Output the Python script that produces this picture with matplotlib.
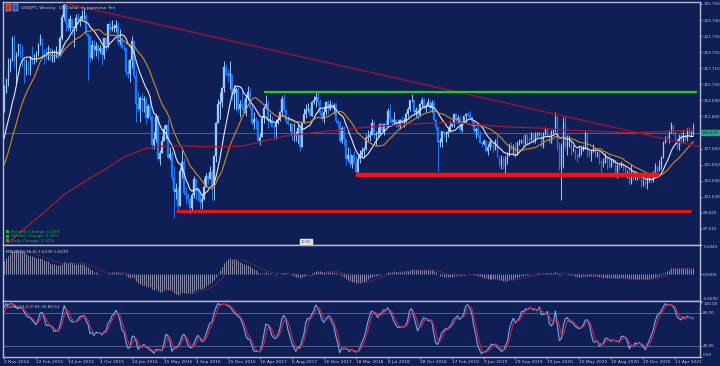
import numpy as np
import pandas as pd
import matplotlib
matplotlib.use('Agg')
import matplotlib.pyplot as plt

# weekly USDJPY bars, first bar = week of 2 Nov 2014
start_date = '2014-11-02'

# 26 weeks before the first visible bar (only feeds the indicators)
cpre = [101.8, 101.5, 101.9, 101.8, 102.5, 102.0, 102.0, 101.3, 102.0, 101.3, 101.3, 101.8, 102.6,
        102.0, 102.4, 103.8, 104.1, 105.0, 107.4, 108.8, 109.3, 109.7, 107.7, 106.9, 108.1, 112.3]
hpre = [102.2, 102.7, 102.0, 102.0, 102.8, 102.8, 102.3, 102.1, 102.3, 102.0, 101.8, 101.9, 103.15,
        102.8, 102.6, 104.1, 104.4, 105.7, 107.4, 109.45, 109.5, 110.1, 109.0, 107.7, 108.4, 112.5]
lpre = [101.4, 101.1, 100.8, 101.4, 101.7, 101.7, 101.6, 101.2, 101.2, 101.1, 101.0, 101.2, 101.8,
        101.5, 101.9, 102.3, 103.7, 104.2, 104.9, 106.8, 108.4, 108.8, 107.4, 105.2, 106.8, 107.5]

c2014 = [114.6, 116.3, 117.8, 118.6, 121.5, 118.8, 119.5, 120.7, 120.5]
h2014 = [115.6, 116.5, 118.98, 118.98, 121.7, 121.85, 119.8, 120.8, 120.8]
l2014 = [112.3, 114.9, 115.5, 117.2, 118.6, 117.9, 115.6, 119.2, 119.0]

c2015 = [118.5, 117.5, 117.7, 117.5, 119.1, 118.7, 119.0, 119.6, 120.8, 121.4,
         120.0, 119.1, 118.9, 120.2, 118.9, 118.9, 119.4, 119.8, 119.3, 121.5,
         124.1, 125.6, 123.4, 122.7, 123.9, 122.8, 122.8, 124.0, 123.8, 123.9,
         124.2, 124.3, 122.0, 121.7, 119.0, 120.6, 120.0, 120.5, 119.9, 120.2,
         119.4, 121.5, 120.6, 123.2, 122.6, 122.8, 122.8, 123.1, 121.0, 121.2, 120.3, 120.2]
h2015 = [120.5, 119.0, 118.9, 118.6, 119.2, 120.5, 119.5, 119.9, 120.9, 122.0,
         121.5, 120.1, 120.4, 120.6, 120.3, 120.1, 120.0, 120.5, 120.0, 121.8,
         124.5, 125.86, 125.7, 124.0, 124.4, 123.7, 123.0, 124.5, 124.6, 124.3,
         125.0, 125.3, 124.6, 121.8, 121.8, 121.3, 121.2, 121.0, 120.7, 120.6,
         120.3, 121.5, 121.5, 123.3, 123.6, 123.7, 123.2, 123.7, 123.5, 122.6, 121.7, 120.7]
l2015 = [117.9, 115.85, 116.9, 116.9, 116.9, 118.3, 118.2, 118.5, 119.2, 120.6,
         119.3, 118.3, 118.7, 118.7, 118.6, 118.5, 118.5, 119.0, 118.9, 119.2,
         121.3, 123.7, 122.4, 122.4, 122.4, 121.9, 120.4, 122.4, 123.3, 123.0,
         123.6, 123.9, 121.7, 116.2, 118.5, 118.9, 119.3, 119.3, 118.7, 119.6,
         118.1, 118.9, 119.9, 120.3, 122.2, 122.4, 122.2, 122.2, 120.6, 120.6, 120.1, 119.9]

c2016 = [117.2, 117.0, 118.8, 121.1, 116.8, 113.2, 112.6, 114.0, 113.8, 113.8,
         111.5, 113.0, 111.7, 108.1, 108.8, 111.8, 106.3, 107.1, 108.6, 110.1,
         110.6, 106.5, 107.0, 104.1, 102.2, 102.6, 100.5, 104.9, 106.0, 102.1,
         101.8, 101.3, 100.2, 101.8, 103.9, 102.6, 102.2, 101.0, 101.3, 102.9,
         104.2, 103.8, 104.7, 103.1, 106.7, 110.9, 113.2, 113.5, 115.3, 117.9, 117.1, 116.9]
h2016 = [120.4, 118.8, 118.9, 121.7, 121.0, 117.5, 114.9, 114.3, 114.6, 114.2,
         114.1, 113.2, 113.8, 111.9, 109.7, 111.9, 111.9, 107.5, 109.2, 110.6,
         110.6, 111.4, 107.9, 107.3, 105.5, 103.3, 102.8, 105.4, 107.5, 106.5,
         102.8, 102.1, 101.5, 102.1, 104.2, 104.0, 102.7, 102.2, 101.8, 104.0,
         104.6, 104.3, 105.5, 105.0, 106.9, 111.0, 113.9, 114.8, 115.4, 118.66, 118.3, 117.8]
l2016 = [116.7, 116.5, 115.98, 117.7, 116.5, 110.98, 112.3, 110.98, 112.3, 112.2,
         110.7, 111.6, 111.3, 107.6, 107.6, 108.5, 106.1, 105.55, 107.8, 108.7,
         108.9, 106.5, 106.2, 103.6, 99.0, 101.3, 99.98, 100.7, 104.0, 101.9,
         100.7, 100.8, 99.5, 99.9, 101.5, 101.2, 101.2, 100.1, 100.1, 101.2,
         102.8, 103.2, 103.8, 101.2, 101.2, 106.0, 110.8, 111.4, 112.9, 114.7, 116.7, 116.0]

c2017 = [117.0, 114.5, 114.6, 115.1, 112.6, 113.2, 112.9, 112.1, 114.0, 114.8,
         112.7, 110.8, 111.4, 111.1, 108.6, 109.1, 111.5, 112.7, 113.3, 111.3,
         111.3, 110.4, 110.3, 110.9, 111.3, 112.2, 113.9, 112.5, 111.1, 110.7,
         110.7, 109.2, 109.2, 109.3, 110.2, 107.8, 110.8, 112.0, 112.5, 112.6,
         111.8, 113.5, 113.7, 114.1, 113.5, 112.1, 111.5, 112.2, 113.5, 112.6, 113.3, 112.7]
h2017 = [118.6, 116.9, 115.6, 115.4, 115.4, 113.7, 114.9, 113.7, 114.4, 115.5,
         115.2, 113.3, 112.2, 111.6, 111.2, 109.6, 111.8, 113.0, 114.4, 113.7,
         112.1, 111.7, 110.6, 111.4, 111.8, 112.4, 114.2, 114.5, 112.6, 111.9,
         110.9, 110.9, 110.9, 109.8, 110.7, 110.2, 111.0, 112.7, 113.3, 113.4,
         112.9, 113.6, 114.2, 114.7, 114.7, 113.9, 112.7, 112.9, 113.6, 113.7, 113.7, 113.5]
l2017 = [115.1, 113.8, 112.6, 112.5, 112.1, 111.6, 112.6, 112.0, 111.7, 113.7,
         112.6, 110.6, 110.1, 110.1, 108.3, 108.1, 109.1, 110.8, 112.6, 110.2,
         110.8, 110.3, 108.8, 108.8, 110.7, 111.1, 111.9, 112.4, 110.9, 110.6,
         109.9, 108.7, 108.6, 108.6, 108.3, 107.3, 108.0, 111.4, 111.5, 112.2,
         111.7, 111.7, 113.2, 112.9, 113.1, 111.9, 111.1, 110.8, 111.9, 112.0, 112.5, 112.6]

c2018 = [113.1, 111.1, 110.8, 108.6, 110.2, 108.8, 106.3, 106.9, 105.7, 106.8,
         105.9, 104.7, 106.3, 106.9, 107.3, 107.6, 109.0, 109.1, 109.4, 110.8,
         109.4, 109.5, 109.5, 110.7, 109.9, 110.7, 110.5, 112.4, 111.4, 111.0,
         111.2, 110.8, 110.5, 111.2, 110.9, 111.0, 112.0, 112.6, 113.7, 113.7,
         112.2, 112.5, 111.9, 113.2, 113.8, 112.8, 113.0, 113.5, 112.7, 113.4, 111.2, 110.3]
h2018 = [113.4, 113.4, 111.3, 111.1, 110.5, 110.5, 108.9, 107.9, 107.7, 106.9,
         107.3, 106.9, 107.0, 107.5, 107.8, 107.9, 109.5, 110.0, 109.8, 111.4,
         111.1, 109.9, 110.3, 110.9, 110.8, 110.9, 111.2, 112.8, 113.2, 111.5,
         112.2, 111.4, 111.4, 111.4, 111.8, 111.5, 112.2, 112.9, 113.8, 114.55,
         113.9, 112.9, 112.7, 113.4, 114.1, 114.0, 113.2, 114.0, 113.8, 113.7, 113.7, 111.4]
l2018 = [112.0, 110.9, 110.3, 108.3, 108.3, 108.0, 105.55, 106.1, 105.3, 105.2,
         105.8, 104.6, 104.7, 105.8, 106.6, 106.6, 107.5, 108.6, 108.6, 109.4,
         108.9, 108.1, 109.0, 109.7, 109.6, 109.4, 110.3, 110.3, 110.8, 110.6,
         110.7, 110.3, 110.1, 110.1, 110.7, 110.4, 110.7, 111.6, 112.4, 113.5,
         111.8, 111.6, 111.4, 111.8, 112.9, 112.6, 112.3, 113.2, 112.2, 112.3, 111.1, 110.0]

c2019 = [108.5, 108.5, 109.8, 109.5, 109.5, 109.7, 110.5, 110.7, 112.0, 111.2,
         111.5, 110.0, 110.9, 111.7, 112.0, 111.9, 111.6, 111.1, 109.9, 110.1,
         109.3, 108.3, 108.2, 108.6, 107.3, 107.9, 108.5, 107.9, 107.7, 108.7,
         106.6, 105.7, 106.4, 105.4, 106.3, 106.9, 108.1, 107.6, 107.9, 106.9,
         108.3, 108.4, 108.7, 108.2, 109.3, 108.8, 108.7, 109.5, 108.6, 109.4, 109.4, 109.4]
h2019 = [110.5, 109.0, 109.9, 109.9, 109.8, 110.2, 111.1, 110.9, 112.1, 112.1,
         111.9, 111.7, 111.0, 111.8, 112.1, 112.2, 112.4, 111.7, 111.1, 110.3,
         110.7, 109.9, 108.6, 108.8, 108.7, 108.2, 108.7, 108.99, 108.3, 108.9,
         109.3, 106.7, 106.9, 106.7, 106.7, 107.2, 108.3, 108.5, 108.2, 108.5,
         108.6, 108.9, 108.9, 109.3, 109.5, 109.5, 109.1, 109.7, 109.7, 109.7, 109.7, 109.7]
l2019 = [104.9, 107.8, 107.8, 109.1, 108.5, 109.1, 109.7, 110.3, 110.4, 111.0,
         110.8, 109.7, 109.7, 110.8, 110.8, 111.6, 111.4, 110.9, 109.5, 109.0,
         109.1, 108.3, 107.8, 108.1, 107.2, 106.8, 107.5, 107.8, 107.2, 107.5,
         106.6, 105.3, 105.1, 105.1, 104.5, 105.7, 106.7, 107.5, 106.9, 106.5,
         106.8, 108.1, 108.4, 107.9, 108.2, 108.2, 108.2, 108.7, 108.4, 108.4, 109.1, 109.3]

c2020 = [108.1, 109.5, 110.1, 109.3, 108.4, 109.8, 109.8, 111.6, 108.1, 105.4,
         107.9, 110.8, 107.9, 108.5, 108.5, 107.5, 107.5, 106.9, 106.6, 107.1,
         107.6, 107.8, 109.6, 107.4, 106.9, 107.2, 107.5, 106.9, 107.0, 106.1,
         105.9, 105.9, 106.6, 105.8, 105.4, 106.2, 106.2, 104.6, 105.6, 105.3,
         105.6, 105.4, 104.7, 104.7, 103.4, 104.6, 103.8, 104.1, 104.2, 104.0, 103.3, 103.5]
h2020 = [109.7, 109.7, 110.3, 110.2, 109.3, 110.0, 110.1, 112.2, 111.7, 108.5,
         108.3, 111.6, 111.7, 109.4, 109.4, 108.1, 108.1, 107.6, 107.0, 107.8,
         107.9, 108.1, 109.85, 109.7, 107.6, 107.5, 108.2, 107.8, 107.4, 107.4,
         106.2, 106.5, 107.1, 106.4, 106.9, 106.5, 106.4, 106.1, 105.7, 105.8,
         106.1, 105.7, 105.5, 105.0, 105.3, 105.7, 104.8, 104.8, 104.7, 104.6, 104.1, 103.9]
l2020 = [107.8, 107.7, 109.4, 109.0, 108.3, 108.3, 109.6, 109.7, 107.5, 105.0,
         101.2, 105.2, 107.5, 106.9, 107.9, 106.9, 107.2, 106.4, 106.0, 106.8,
         106.9, 107.3, 107.6, 106.6, 106.6, 106.1, 107.2, 106.6, 106.6, 105.7,
         104.2, 105.3, 105.8, 105.1, 105.2, 105.6, 105.9, 104.3, 104.0, 105.0,
         105.3, 104.9, 104.3, 104.0, 103.2, 103.2, 103.7, 103.7, 103.7, 103.9, 102.9, 103.0]

c2021 = [103.2, 103.9, 103.9, 103.8, 104.7, 105.4, 104.9, 105.4, 106.6, 108.3,
         109.0, 108.9, 109.6, 110.6, 109.7, 108.8, 107.9, 109.3, 108.6, 109.4,
         108.9, 109.8, 109.5, 109.7, 110.2]
h2021 = [103.8, 104.1, 104.4, 104.1, 104.9, 105.8, 105.6, 106.2, 106.7, 108.6,
         109.2, 109.4, 110.0, 110.97, 110.5, 109.8, 108.9, 109.3, 109.7, 109.8,
         109.4, 110.2, 110.3, 109.9, 110.8]
l2021 = [102.9, 102.6, 103.5, 103.3, 103.5, 104.7, 104.4, 105.0, 105.1, 106.5,
         108.3, 108.6, 108.4, 109.6, 109.3, 108.6, 107.5, 107.5, 108.3, 108.4,
         108.6, 108.6, 109.2, 109.2, 109.3]

# slow red moving average, every 10 bars
ma_slow_bar = [0, 10, 20, 30, 40, 50, 60, 70, 80, 90, 100, 110, 120, 130, 140, 150, 160, 170,
               180, 190, 200, 210, 220, 230, 240, 250, 260, 270, 280, 290, 300, 310, 320, 330, 345]
ma_slow_val = [95.4, 97.6, 99.7, 101.9, 103.5, 105.0, 106.6, 107.6, 108.0, 108.0, 107.9, 107.9,
               108.0, 108.6, 109.2, 109.5, 109.8, 110.0, 110.3, 110.5, 110.7, 110.8, 110.9, 110.8,
               110.6, 110.4, 110.3, 110.2, 110.0, 109.9, 109.8, 109.7, 109.7, 109.8, 110.0]

# drawn objects: (bar, price)
trend_line = [(30, 125.86), (348, 107.9)]
green_level = (130, 347, 114.7)
red_levels = [(176, 328, 104.4), (86, 344, 99.87)]
last_price = 109.670

price_ticks = [125.750, 123.740, 121.730, 119.720, 117.710, 115.700, 113.690, 111.680,
               107.660, 105.650, 103.640, 101.630, 99.620, 97.610]
macd_ticks = [5.3449, 0.0, -4.8590]
stoch_ticks = [100.0, 80.0, 20.0, 0.0]

title_text = 'USDJPY, Weekly:  US Dollar vs Japanese Yen'
change_text = ['Monthly Change: 0.19%', 'Weekly Change: 0.22%', 'Daily Change: 0.10%']
macd_label = 'MACD(12,26,9) 1.6239 1.6239'
stoch_label = 'Stoch(14,3,3) 81.35 80.53'

close_v = c2014 + c2015 + c2016 + c2017 + c2018 + c2019 + c2020 + c2021
high_v = h2014 + h2015 + h2016 + h2017 + h2018 + h2019 + h2020 + h2021
low_v = l2014 + l2015 + l2016 + l2017 + l2018 + l2019 + l2020 + l2021
assert len(close_v) == len(high_v) == len(low_v)

allc = pd.Series(cpre + close_v)
allh = pd.Series(hpre + high_v)
alll = pd.Series(lpre + low_v)
allo = allc.shift(1).fillna(allc.iloc[0])
allh = np.maximum(allh, np.maximum(allo, allc))
alll = np.minimum(alll, np.minimum(allo, allc))

sma10 = allc.rolling(10).mean()
sma20 = allc.rolling(20).mean()
macd = allc.ewm(span=12, adjust=False).mean() - allc.ewm(span=26, adjust=False).mean()
macd_sig = macd.rolling(9).mean()
ll = alll.rolling(14).min()
hh = allh.rolling(14).max()
st_main = 100 * (allc - ll).rolling(3).sum() / (hh - ll).rolling(3).sum()
st_sig = st_main.rolling(3).mean()

npre = len(cpre)
n = len(close_v)
x = np.arange(n)
o = allo.values[npre:]
c = allc.values[npre:]
h = allh.values[npre:]
l = alll.values[npre:]
dates = pd.date_range(start_date, periods=n, freq='7D')

BG = '#0f1f55'
FG = '#c4c8d4'
LBL = 3.0

fig = plt.figure(figsize=(7.2, 3.66), dpi=100, facecolor=BG)
W, H = 720.0, 366.0
L, R = 3, 700


def panel(top, bottom):
    ax = fig.add_axes([L / W, (H - bottom) / H, (R - L) / W, (bottom - top) / H])
    ax.set_facecolor(BG)
    for s in ax.spines.values():
        s.set_color('#b8bcc8')
        s.set_linewidth(1.0)
    ax.yaxis.tick_right()
    ax.tick_params(axis='y', colors=FG, labelsize=LBL, length=1.5, width=0.5, pad=0.8)
    ax.tick_params(axis='x', bottom=False, labelbottom=False)
    ax.set_xlim(-0.6, 348.4)
    return ax


ax = panel(2, 245)
ax2 = panel(245, 301)
ax3 = panel(301, 357)

# ---- price panel
ax.set_ylim(95.60, 126.0)
up = c >= o
col = np.where(up, '#9cc8ff', '#1e78ff')
ax.vlines(x, l, h, colors=col, lw=0.7, zorder=3)
body = np.where(np.abs(c - o) < 0.08, 0.08, c - o)
ax.bar(x, body, bottom=o, width=0.62, color=col, edgecolor=col, lw=0.2, zorder=4)

ax.plot(x, sma10.values[npre:], color='#e8e8f0', lw=0.8, zorder=5)
ax.plot(x, sma20.values[npre:], color='#d08a2a', lw=0.8, zorder=5)
ax.plot(ma_slow_bar, ma_slow_val, color='#a8182c', lw=0.9, zorder=5)

ax.plot([p[0] for p in trend_line], [p[1] for p in trend_line], color='#9c1030', lw=1.0, zorder=6)
ax.hlines(green_level[2], green_level[0], green_level[1], color='#22cc22', lw=1.6, zorder=6)
ax.hlines(red_levels[0][2], red_levels[0][0], red_levels[0][1], color='#ff1010', lw=3.2, zorder=6)
ax.hlines(red_levels[1][2], red_levels[1][0], red_levels[1][1], color='#ff1010', lw=2.0, zorder=6)
ax.axhline(last_price, color='#5a6a9a', lw=0.6, zorder=2)

ax.set_yticks(price_ticks)
ax.set_yticklabels(['%.3f' % v for v in price_ticks])
ax.text(1.002, last_price, '%.3f' % last_price, transform=ax.get_yaxis_transform(),
        fontsize=LBL, color='#0f1f55', va='center', ha='left',
        bbox=dict(boxstyle='square,pad=0.2', fc='#2fa08a', ec='#2fa08a'))

ax.add_patch(plt.Rectangle((0.004, 0.962), 0.008, 0.03, transform=ax.transAxes,
                           fc='#c03030', ec='#e0e0e0', lw=0.3, zorder=7))
ax.add_patch(plt.Rectangle((0.014, 0.962), 0.008, 0.03, transform=ax.transAxes,
                           fc='#3050c0', ec='#e0e0e0', lw=0.3, zorder=7))
ax.text(0.026, 0.977, title_text, transform=ax.transAxes, fontsize=3.2, color=FG,
        va='center', ha='left', zorder=7)
for k, t in enumerate(change_text):
    ax.text(0.012, 0.055 - k * 0.019, t, transform=ax.transAxes, fontsize=3.0,
            color='#22b022', va='center', ha='left', zorder=7)
    ax.add_patch(plt.Rectangle((0.004, 0.049 - k * 0.019), 0.005, 0.013,
                               transform=ax.transAxes, fc='#22b022', zorder=7))
ax.text(0.435, 0.012, '10:00', transform=ax.transAxes, fontsize=2.6, color='#404040',
        ha='center', va='center', zorder=8,
        bbox=dict(boxstyle='square,pad=0.2', fc='#e8e8e8', ec='#e8e8e8'))

# ---- MACD panel
ax2.set_ylim(macd_ticks[-1], macd_ticks[0])
mv = macd.values[npre:]
ax2.vlines(x, 0, mv, colors='#b4b8cc', lw=0.5)
ax2.plot(x, macd_sig.values[npre:], color='#c02848', lw=0.6, ls=(0, (1, 1)))
ax2.set_yticks(macd_ticks)
ax2.set_yticklabels(['%.4f' % v for v in macd_ticks])
tl = ax2.get_yticklabels()
tl[0].set_va('top')
tl[-1].set_va('bottom')
ax2.text(0.004, 0.88, macd_label, transform=ax2.transAxes, fontsize=3.0, color=FG,
         va='center', ha='left')

# ---- Stochastic panel
ax3.set_ylim(3.8, 101.5)
ax3.axhline(80, color='#6a78a8', lw=0.5)
ax3.axhline(20, color='#6a78a8', lw=0.5)
ax3.plot(x, st_main.values[npre:], color='#6ab0f0', lw=0.8)
ax3.plot(x, st_sig.values[npre:], color='#d02040', lw=0.8)
ax3.set_yticks(stoch_ticks)
ax3.set_yticklabels(['%.2f' % v for v in stoch_ticks])
tl = ax3.get_yticklabels()
tl[0].set_va('top')
tl[-1].set_va('bottom')
ax3.text(0.004, 0.9, stoch_label, transform=ax3.transAxes, fontsize=3.0, color=FG,
         va='center', ha='left')

tick_pos = list(range(0, n, 16))
ax3.set_xticks(tick_pos)
ax3.set_xticklabels(['%d %s' % (d.day, d.strftime('%b %Y')) for d in dates[tick_pos]],
                    ha='left')
ax3.tick_params(axis='x', bottom=True, labelbottom=True, colors=FG, labelsize=3.2,
                length=1.5, width=0.5, pad=1)

fig.savefig('out.png', dpi=100, facecolor=BG)
